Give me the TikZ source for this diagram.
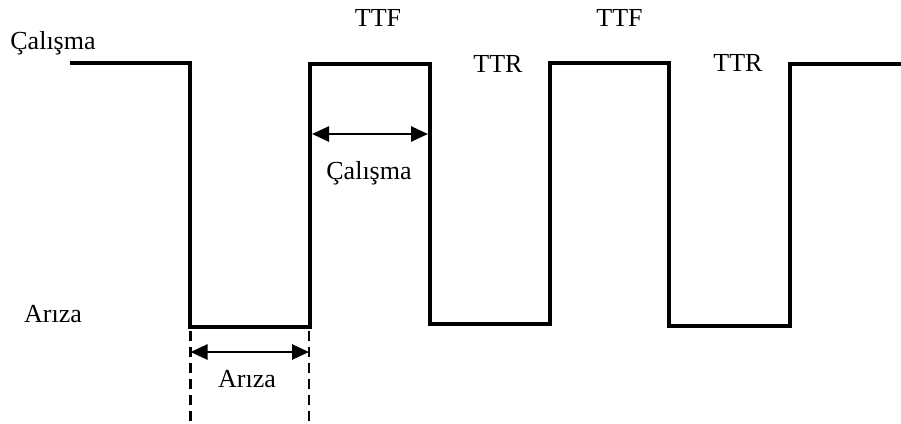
\documentclass[tikz,border=0pt]{standalone}
\usepackage{fontspec}
\setmainfont{Liberation Serif}
\usetikzlibrary{arrows.meta}
\begin{document}
\begin{tikzpicture}[x=1pt,y=-1pt,
  wave/.style={line width=4pt, line join=miter},
  dim/.style={line width=2.6pt, {Triangle[length=17pt,width=15pt]}-{Triangle[length=17pt,width=15pt]}},
  guide/.style={line width=2.4pt, dash pattern=on 10pt off 6pt},
  lbl/.style={anchor=base, inner sep=0pt, font=\fontsize{26}{30}\selectfont}]
\useasboundingbox (0,0) rectangle (901,423);
% waveform corners
\coordinate (s)  at (70,63);
\coordinate (a1) at (189.5,63);
\coordinate (a2) at (189.5,326.5);
\coordinate (b1) at (310,326.5);
\coordinate (b2) at (310,64);
\coordinate (c1) at (430,64);
\coordinate (c2) at (430,324);
\coordinate (d1) at (549.5,324);
\coordinate (d2) at (549.5,62.5);
\coordinate (e1) at (668.5,62.5);
\coordinate (e2) at (668.5,325.5);
\coordinate (f1) at (790,325.5);
\coordinate (f2) at (790,64);
\coordinate (g)  at (901,64);
\draw[wave] (s) -- (a1) -- (a2) -- (b1) -- (b2) -- (c1) -- (c2) -- (d1) -- (d2) -- (e1) -- (e2) -- (f1) -- (f2) -- (g);
% dimension arrows
\coordinate (u1) at (312,134);
\coordinate (u2) at (428,134);
\draw[dim] (u1) -- (u2);
\coordinate (l1) at (190.5,352);
\coordinate (l2) at (309,352);
\draw[dim] (l1) -- (l2);
% dashed guides
\coordinate (gl1) at (190.5,331);
\coordinate (gl2) at (190.5,423);
\coordinate (gr1) at (309,331);
\coordinate (gr2) at (309,423);
\draw[guide] (gl1) -- (gl2);
\draw[guide] (gr1) -- (gr2);
% labels
\node[lbl] (calisma1) at (53,49) {Çalışma};
\node[lbl] (ariza1) at (53,322) {Arıza};
\node[lbl] (ttf1) at (378,27) {TTF};
\node[lbl] (ttf2) at (619.5,27) {TTF};
\node[lbl] (ttr1) at (498,72) {TTR};
\node[lbl] (ttr2) at (738,71) {TTR};
\node[lbl] (calisma2) at (369,179) {Çalışma};
\node[lbl] (ariza2) at (247,387) {Arıza};
\end{tikzpicture}
\end{document}
